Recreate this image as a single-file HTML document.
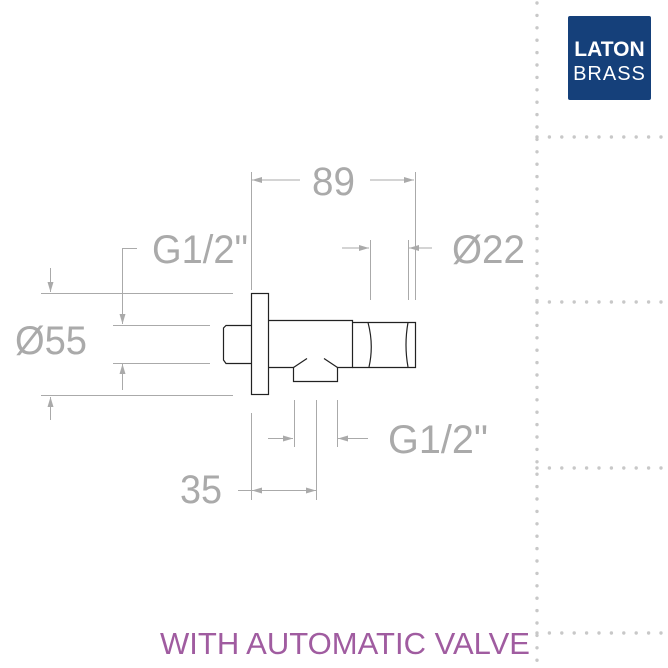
<!DOCTYPE html>
<html><head><meta charset="utf-8"><style>
body{margin:0;background:#fff}
svg{display:block}
</style></head><body>
<svg width="668" height="668" viewBox="0 0 668 668" xmlns="http://www.w3.org/2000/svg" font-family="Liberation Sans, sans-serif">
<defs>
<marker id="a" viewBox="0 0 10 6" refX="10" refY="3" markerWidth="10" markerHeight="6" orient="auto" markerUnits="userSpaceOnUse"><path d="M0,0 L10,3 L0,6z" fill="#aaa"/></marker>
</defs>
<g stroke="#c8c8c8" stroke-width="3.4" stroke-linecap="round" stroke-dasharray="0 12.4">
<path d="M537 3V668"/>
<path d="M537 137H668M537 302H668M537 468H668M537 633H668"/>
</g>
<rect x="568" y="16" width="83" height="84" rx="2" fill="#15407a"/>
<text x="609.5" y="56" text-anchor="middle" fill="#fff" font-size="21" font-weight="bold">LATON</text>
<text x="609.5" y="80" text-anchor="middle" fill="#fff" font-size="20" letter-spacing="1">BRASS</text>
<g stroke="#aaa" stroke-width="1" fill="none">
<path d="M251.5 172V290M415.5 172V300"/>
<path d="M300 180H252" marker-end="url(#a)"/><path d="M370 180H414" marker-end="url(#a)"/>
<path d="M370.5 240V300M408.5 240V300"/>
<path d="M342 248H369" marker-end="url(#a)"/><path d="M432 248H409" marker-end="url(#a)"/>
<path d="M137 248.5H122.5V324" marker-end="url(#a)"/>
<path d="M113 325.5H210M113 363.5H210"/>
<path d="M122.5 390V364" marker-end="url(#a)"/>
<path d="M41 293.5H233M41 395.5H233"/>
<path d="M50.5 268V292" marker-end="url(#a)"/>
<path d="M50.5 420V397" marker-end="url(#a)"/>
<path d="M294.5 400V447M316.5 400V500M337.5 400V447M251.5 413V500"/>
<path d="M268 438.5H293" marker-end="url(#a)"/><path d="M368 438.5H338" marker-end="url(#a)"/>
<path d="M238 490.5H316" marker-end="url(#a)"/><path d="M280 490.5H252" marker-end="url(#a)"/>
</g>
<g stroke="#222" stroke-width="1.2" fill="none">
<rect x="251.5" y="293.5" width="17" height="101"/>
<path d="M251 325.5H226L223.5 328V360L226 363.5H251"/>
<path d="M268 320.5H352.5V367.5H337.5V381.5H293.5V367.5H268"/>
<path d="M293.5 367.5L307 358.5M324 358.5L337.5 367.5"/>
<path d="M352.5 322.5H415.5V367.5H352.5"/>
<path d="M368 322.5Q374 345 369 367M408 322.5Q404 345 408 367"/>
</g>
<g fill="#aaa" font-size="40">
<text x="312" y="195" textLength="43" lengthAdjust="spacingAndGlyphs">89</text>
<text x="452" y="263" textLength="73" lengthAdjust="spacingAndGlyphs">Ø22</text>
<text x="152" y="263" textLength="96" lengthAdjust="spacingAndGlyphs">G1/2"</text>
<text x="15" y="354" textLength="72" lengthAdjust="spacingAndGlyphs">Ø55</text>
<text x="388" y="453" textLength="100" lengthAdjust="spacingAndGlyphs">G1/2"</text>
<text x="180" y="503" textLength="42" lengthAdjust="spacingAndGlyphs">35</text>
</g>
<text x="160" y="654" fill="#a05ca0" font-size="31" textLength="370" lengthAdjust="spacingAndGlyphs">WITH AUTOMATIC VALVE</text>
</svg>
</body></html>
